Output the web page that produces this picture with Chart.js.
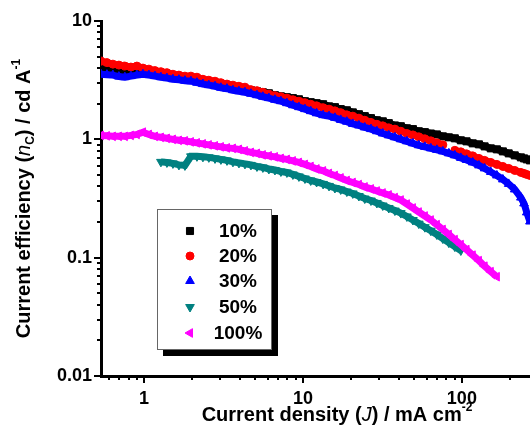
<!DOCTYPE html>
<html>
<head>
<meta charset="utf-8">
<script src="https://cdn.jsdelivr.net/npm/chart.js@4/dist/chart.umd.min.js"></script>
<style>
  html, body { margin: 0; padding: 0; background: #fff; overflow: hidden; }
  #wrap { width: 530px; height: 426px; overflow: hidden; position: relative; }
  canvas { display: block; }
</style>
</head>
<body>
<div id="wrap"><canvas id="c" width="580" height="426"></canvas></div>
<script>
// Current density J (mA cm^-2) at which efficiency was sampled
const currentDensity = [
  0.537, 0.585, 0.638, 0.696, 0.759, 0.828, 0.903, 0.986, 1.075, 1.173,
  1.279, 1.395, 1.522, 1.660, 1.811, 1.975, 2.155, 2.35, 2.56, 2.80,
  3.05, 3.33, 3.63, 3.96, 4.32, 4.71, 5.14, 5.60, 6.11, 6.67,
  7.27, 7.93, 8.65, 9.44, 10.3, 11.2, 12.2, 13.4, 14.6, 15.9,
  17.3, 18.9, 20.6, 22.5, 24.5, 26.8, 29.2, 31.8, 34.7, 37.9,
  41.3, 45.1, 49.2, 53.6, 58.5, 63.8, 69.6, 75.9, 82.8, 90.3,
  98.5, 107, 117, 128, 139, 152, 166, 181, 197, 215,
  235, 246, 256, 268
];

// Current efficiency (cd A^-1) for each doping ratio
const eff10 = [
  3.92, 3.88, 3.84, 3.84, 3.81, 3.77, 3.77, 3.77, 3.70, 3.63,
  3.55, 3.49, 3.42, 3.35, 3.29, 3.22, 3.16, 3.10, 3.04, 2.98,
  2.93, 2.87, 2.76, 2.71, 2.65, 2.60, 2.55, 2.50, 2.45, 2.36,
  2.31, 2.27, 2.23, 2.18, 2.10, 2.06, 2.02, 1.98, 1.90, 1.87,
  1.80, 1.76, 1.69, 1.63, 1.57, 1.51, 1.45, 1.42, 1.37, 1.31,
  1.29, 1.24, 1.22, 1.17, 1.15, 1.12, 1.10, 1.06, 1.04, 1.02,
  0.981, 0.962, 0.925, 0.907, 0.872, 0.839, 0.823, 0.791, 0.761, 0.732,
  0.704, 0.690, 0.677, 0.664
];
const eff20 = [
  4.58, 4.45, 4.32, 4.24, 4.16, 4.08, 4.16, 4.00, 3.92, 3.81,
  3.73, 3.66, 3.55, 3.49, 3.42, 3.42, 3.35, 3.22, 3.16, 3.10,
  3.01, 2.93, 2.87, 2.81, 2.76, 2.63, 2.58, 2.50, 2.41, 2.34,
  2.29, 2.23, 2.16, 2.10, 2.04, 1.98, 1.92, 1.85, 1.80, 1.74,
  1.68, 1.61, 1.57, 1.51, 1.45, 1.39, 1.34, 1.30, 1.25, 1.22,
  1.17, 1.12, 1.09, 1.05, 1.01, 0.971, 0.934, 0.898, null, 0.807,
  0.784, 0.754, 0.725, 0.690, 0.664, 0.638, 0.614, 0.590, 0.568, 0.546,
  0.525, 0.515, 0.505, 0.495
];
const eff30 = [
  3.55, 3.52, 3.49, 3.39, 3.35, 3.42, 3.49, 3.55, 3.49, 3.42,
  3.35, 3.29, 3.22, 3.19, 3.13, 3.10, 3.01, 2.93, 2.87, 2.81,
  2.73, 2.68, 2.60, 2.55, 2.50, 2.43, 2.36, 2.29, 2.23, 2.16,
  2.10, 2.02, 1.94, 1.87, 1.80, 1.73, 1.66, 1.60, 1.57, 1.52,
  1.46, 1.41, 1.35, 1.31, 1.26, 1.22, 1.17, 1.12, 1.08, 1.04,
  1.00, 0.962, 0.925, 0.890, 0.864, 0.839, 0.815, 0.791, 0.761, 0.732,
  0.697, 0.670, 0.638, 0.602, 0.568, 0.530, 0.495, 0.458, 0.420, 0.377,
  0.322, 0.287, 0.241, 0.202
];
const eff50 = [
  null, null, null, null, null, null, null, null, null, null,
  0.645, 0.638, 0.626, 0.608, 0.602, 0.718, 0.718, 0.711, 0.704, 0.690,
  0.677, 0.664, 0.645, 0.632, 0.620, 0.608, 0.590, 0.579, 0.562, 0.551,
  0.535, 0.525, 0.505, 0.486, 0.467, 0.449, 0.436, 0.420, 0.404, 0.388,
  0.377, 0.362, 0.349, 0.332, 0.316, 0.304, 0.290, 0.276, 0.263, 0.250,
  0.238, 0.223, 0.208, 0.194, 0.181, 0.169, 0.157, 0.145, 0.134, 0.124,
  0.115
];
const eff100 = [
  1.08, 1.07, 1.06, 1.06, 1.06, 1.08, 1.10, 1.15, 1.10, 1.06,
  1.04, 1.02, 1.00, 0.981, 0.971, 0.952, 0.934, 0.916, 0.898, 0.881,
  0.864, 0.847, 0.839, 0.823, 0.799, 0.776, 0.761, 0.739, 0.725, 0.711,
  0.690, 0.677, 0.657, 0.638, 0.614, 0.590, 0.562, 0.541, 0.515, 0.495,
  0.472, 0.449, 0.432, 0.415, 0.396, 0.381, 0.366, 0.352, 0.339, 0.322,
  0.307, 0.284, 0.263, 0.243, 0.225, 0.208, 0.190, 0.173, 0.157, 0.142,
  0.129, 0.117, 0.105, 0.0943, 0.0847, 0.0761, 0.0690
];

const seriesLabels = ['10%', '20%', '30%', '50%', '100%'];
const xTickLabels = ['1', '10', '100'];
const yTickLabels = ['0.01', '0.1', '1', '10'];

const FONT = 'Arial, "Liberation Sans", Helvetica, sans-serif';

// Marker appearance per series
const seriesStyles = [
  { color: '#000000', pointStyle: 'rect',     rotation: 0,   radius: 5 },
  { color: '#ff0000', pointStyle: 'circle',   rotation: 0,   radius: 4 },
  { color: '#0000ff', pointStyle: 'triangle', rotation: 0,   radius: 5 },
  { color: '#008080', pointStyle: 'triangle', rotation: 180, radius: 5 },
  { color: '#ff00ff', pointStyle: 'triangle', rotation: 270, radius: 5 }
];

// Pair each efficiency value with its current density; missing readings stay null
function toPoints(values) {
  return values.map((v, i) => ({ x: currentDensity[i], y: (v === undefined ? null : v) }));
}

const seriesValues = [eff10, eff20, eff30, eff50, eff100];

const datasets = seriesValues.map((vals, i) => ({
  label: seriesLabels[i],
  data: toPoints(vals),
  showLine: true,
  spanGaps: false,
  borderColor: seriesStyles[i].color,
  borderWidth: 7,
  pointStyle: seriesStyles[i].pointStyle,
  pointRotation: seriesStyles[i].rotation,
  pointRadius: seriesStyles[i].radius,
  pointBackgroundColor: seriesStyles[i].color,
  pointBorderColor: seriesStyles[i].color,
  pointBorderWidth: 1,
  order: seriesValues.length - i   // later series drawn on top
}));

function labelFor(value, list) {
  for (const s of list) {
    if (Math.abs(Math.log10(value) - Math.log10(parseFloat(s))) < 1e-6) return s;
  }
  return '';
}

// Draws a run of text pieces with mixed style / baseline shift
function drawRich(ctx, pieces, x, y, align) {
  let total = 0;
  pieces.forEach(p => { ctx.font = p.font; p.w = ctx.measureText(p.text).width; total += p.w; });
  let cx = align === 'center' ? x - total / 2 : x;
  pieces.forEach(p => {
    ctx.font = p.font;
    ctx.fillText(p.text, cx, y + (p.dy || 0));
    cx += p.w;
  });
}

const axisDecor = {
  id: 'axisDecor',
  afterDraw(chart) {
    const ctx = chart.ctx;
    const xs = chart.scales.x, ys = chart.scales.y;
    const area = chart.chartArea;
    ctx.save();
    ctx.strokeStyle = '#000';
    ctx.lineWidth = 2;
    // y tick marks (outward, left)
    for (let e = -2; e <= 1; e++) {
      for (let m = 1; m <= 9; m++) {
        const v = m * Math.pow(10, e);
        if (v < ys.min * 0.999 || v > ys.max * 1.001) continue;
        const py = Math.round(ys.getPixelForValue(v));
        const len = m === 1 ? 7 : 4;
        ctx.beginPath();
        ctx.moveTo(area.left - len, py);
        ctx.lineTo(area.left, py);
        ctx.stroke();
      }
    }
    // x tick marks (outward, down)
    for (let e = -1; e <= 2; e++) {
      for (let m = 1; m <= 9; m++) {
        const v = m * Math.pow(10, e);
        if (v < xs.min || v > xs.max) continue;
        const px = Math.round(xs.getPixelForValue(v));
        const len = m === 1 ? 7 : 4;
        ctx.beginPath();
        ctx.moveTo(px, area.bottom);
        ctx.lineTo(px, area.bottom + len);
        ctx.stroke();
      }
    }

    // axis titles
    ctx.fillStyle = '#000';
    ctx.textBaseline = 'alphabetic';
    ctx.textAlign = 'left';
    const B = 'bold 20px ' + FONT;
    const BI = 'italic 20px ' + FONT;
    const SMALL = 'bold 12px ' + FONT;
    const xMid = (area.left + area.right) / 2;
    drawRich(ctx, [
      { text: 'Current density (', font: B },
      { text: 'J', font: BI },
      { text: ') / mA cm', font: B },
      { text: '-2', font: SMALL, dy: -10 }
    ], xMid, 421, 'center');

    ctx.save();
    ctx.translate(30, (area.top + area.bottom) / 2);
    ctx.rotate(-Math.PI / 2);
    drawRich(ctx, [
      { text: 'Current efficiency (', font: B },
      { text: 'n', font: BI },
      { text: 'C', font: SMALL, dy: 4 },
      { text: ') / cd A', font: B },
      { text: '-1', font: SMALL, dy: -10 }
    ], 0, 0, 'center');
    ctx.restore();

    // legend box with drop shadow
    const lx = 157, ly = 209, lw = 115, lh = 141;
    ctx.fillStyle = '#000';
    ctx.fillRect(lx + 6, ly + 6, lw, lh);
    ctx.fillStyle = '#fff';
    ctx.fillRect(lx, ly, lw, lh);
    ctx.strokeStyle = '#666';
    ctx.lineWidth = 1;
    ctx.strokeRect(lx + 0.5, ly + 0.5, lw - 1, lh - 1);

    const rows = [231, 256, 281, 307, 333];
    ctx.font = 'bold 19px ' + FONT;
    ctx.textAlign = 'center';
    ctx.textBaseline = 'middle';
    seriesLabels.forEach((lab, i) => {
      const st = seriesStyles[i];
      ctx.fillStyle = st.color;
      ctx.strokeStyle = st.color;
      Chart.helpers.drawPoint(ctx, {
        pointStyle: st.pointStyle, rotation: st.rotation,
        radius: st.radius, borderWidth: 1
      }, 190, rows[i]);
      ctx.fillStyle = '#000';
      ctx.fillText(lab, 238, rows[i] + 1);
    });
    ctx.restore();
  }
};

new Chart(document.getElementById('c'), {
  type: 'scatter',
  data: { datasets },
  options: {
    responsive: false,
    animation: false,
    devicePixelRatio: 1,
    layout: { padding: { top: 21, right: 7, left: 0, bottom: 0 } },
    plugins: { legend: { display: false }, tooltip: { enabled: false } },
    scales: {
      x: {
        type: 'logarithmic',
        position: 'bottom',
        min: 0.537,
        max: 500,
        afterFit(s) { s.height = 50; },
        grid: { display: true, drawOnChartArea: false, drawTicks: true, tickLength: 7, color: 'rgba(0,0,0,0)' },
        border: { display: true, color: '#000', width: 3 },
        ticks: {
          autoSkip: false, maxRotation: 0, minRotation: 0, padding: 5, color: '#000',
          font: { family: FONT, size: 18, weight: 'bold' },
          callback: (v) => labelFor(v, xTickLabels)
        }
      },
      y: {
        type: 'logarithmic',
        position: 'left',
        min: 0.01,
        max: 10,
        afterFit(s) { s.width = 101; },
        grid: { display: true, drawOnChartArea: false, drawTicks: true, tickLength: 7, color: 'rgba(0,0,0,0)' },
        border: { display: true, color: '#000', width: 3 },
        ticks: {
          autoSkip: false, padding: 2, color: '#000',
          font: { family: FONT, size: 18, weight: 'bold' },
          callback: (v) => labelFor(v, yTickLabels)
        }
      }
    }
  },
  plugins: [axisDecor]
});
</script>
</body>
</html>
